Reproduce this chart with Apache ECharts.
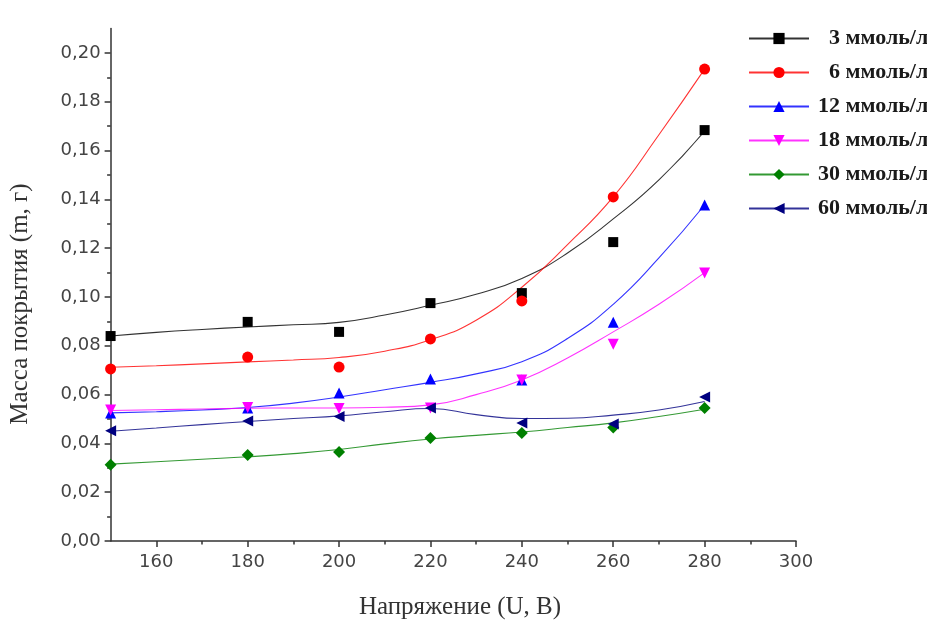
<!DOCTYPE html>
<html>
<head>
<meta charset="utf-8">
<script src="https://cdn.jsdelivr.net/npm/echarts@6/dist/echarts.min.js"></script>
<style>html,body{margin:0;padding:0;background:#fff;}#c{width:927px;height:623px;}</style>
</head>
<body>
<div id="c"></div>
<script>
// ---- data ----
const seriesNames = ['3 ммоль/л', '6 ммоль/л', '12 ммоль/л', '18 ммоль/л', '30 ммоль/л', '60 ммоль/л'];
const voltage = [150, 180, 200, 220, 240, 260, 280];
const mass3  = [0.0840, 0.0898, 0.0857, 0.0975, 0.1016, 0.1225, 0.1684];
const mass6  = [0.0705, 0.0754, 0.0713, 0.0828, 0.0984, 0.1410, 0.1934];
const mass12 = [0.0525, 0.0545, 0.0607, 0.0664, 0.0660, 0.0897, 0.1377];
const mass18 = [0.0537, 0.0547, 0.0543, 0.0545, 0.0660, 0.0806, 0.1098];
const mass30 = [0.0312, 0.0352, 0.0365, 0.0422, 0.0443, 0.0465, 0.0545];
const mass60 = [0.0452, 0.0492, 0.0510, 0.0545, 0.0484, 0.0480, 0.0590];

// fitted curves
const fitVoltage = [150, 160, 170, 180, 190, 200, 210, 220, 230, 240, 250, 260, 270, 280];
const fit3  = [0.0840, 0.0855, 0.0867, 0.0877, 0.0886, 0.0896, 0.0926, 0.0966, 0.1011, 0.1076, 0.1180, 0.1320, 0.1480, 0.1680];
const fit6  = [0.0712, 0.0718, 0.0726, 0.0734, 0.0742, 0.0752, 0.0778, 0.0825, 0.0905, 0.1040, 0.1215, 0.1410, 0.1665, 0.1934];
const fit12 = [0.0525, 0.0530, 0.0537, 0.0547, 0.0565, 0.0590, 0.0620, 0.0650, 0.0685, 0.0735, 0.0830, 0.0970, 0.1160, 0.1377];
const fit18 = [0.0535, 0.0538, 0.0541, 0.0544, 0.0545, 0.0545, 0.0548, 0.0558, 0.0600, 0.0660, 0.0750, 0.0857, 0.0970, 0.1100];
const fit30 = [0.0315, 0.0325, 0.0335, 0.0345, 0.0358, 0.0375, 0.0398, 0.0418, 0.0433, 0.0447, 0.0465, 0.0484, 0.0510, 0.0540];
const fit60 = [0.0450, 0.0463, 0.0477, 0.0490, 0.0502, 0.0513, 0.0530, 0.0543, 0.0518, 0.0502, 0.0503, 0.0516, 0.0537, 0.0572];

// tick labels
const xMajorTicks = [160, 180, 200, 220, 240, 260, 280, 300];
const xMinorTicks = [170, 190, 210, 230, 250, 270, 290];
const yMajorTicks = [0, 0.02, 0.04, 0.06, 0.08, 0.10, 0.12, 0.14, 0.16, 0.18, 0.20];
const yMinorTicks = [0.01, 0.03, 0.05, 0.07, 0.09, 0.11, 0.13, 0.15, 0.17, 0.19];
const xTitle = 'Напряжение (U, B)';
const yTitle = 'Масса покрытия (m, г)';

// ---- styling ----
const pointSets = [mass3, mass6, mass12, mass18, mass30, mass60];
const fitSets = [fit3, fit6, fit12, fit18, fit30, fit60];
const colors = ['#000000', '#ff0000', '#0000ff', '#ff00ff', '#008000', '#000080'];
const symbols = [
  'rect',
  'circle',
  'triangle',
  'path://M0,0 L10,0 L5,10 Z',
  'diamond',
  'path://M0,5 L10,0 L10,10 Z'
];
const sizes = [10, 11, 11, 11, 12, 11];

const pair = (xs, ys) => xs.map((x, i) => [x, ys[i]]);

const series = [];
seriesNames.forEach((name, i) => {
  series.push({
    name: name,
    type: 'line',
    data: pair(fitVoltage, fitSets[i]),
    smooth: 0.5,
    showSymbol: false,
    symbol: symbols[i],
    symbolSize: sizes[i],
    itemStyle: { color: colors[i] },
    lineStyle: { color: colors[i], width: 1.1, opacity: 0.8 },
    emphasis: { disabled: true },
    silent: true,
    z: 2
  });
});
seriesNames.forEach((name, i) => {
  series.push({
    name: name,
    type: 'scatter',
    data: pair(voltage, pointSets[i]),
    symbol: symbols[i],
    symbolSize: sizes[i],
    itemStyle: { color: colors[i], opacity: 1 },
    emphasis: { disabled: true },
    silent: true,
    z: 3 + i
  });
});

const axisColor = '#333';
const labelFont = { fontFamily: 'DejaVu Sans', fontSize: 18, color: '#444' };

const option = {
  backgroundColor: '#ffffff',
  animation: false,
  grid: { left: 110.6, right: 131, top: 28.6, bottom: 82, containLabel: false },
  legend: {
    data: seriesNames,
    orient: 'vertical',
    left: 748,
    top: 27.5,
    padding: 0,
    itemWidth: 60,
    itemHeight: 14,
    itemGap: 12,
    selectedMode: false,
    formatter: n => (n.length < 10 ? '\u2002' + n : n),
    textStyle: {
      fontFamily: 'Liberation Serif',
      fontWeight: 'bold',
      fontSize: 22,
      color: '#1a1a1a',
      padding: [0, 0, 0, 4]
    }
  },
  xAxis: [
    {
      type: 'value', min: 150, max: 300,
      axisLine: { show: true, onZero: false, lineStyle: { color: axisColor, width: 1.5 } },
      axisTick: { show: true, customValues: xMajorTicks, length: 6, lineStyle: { color: axisColor, width: 1.5 } },
      axisLabel: Object.assign({ customValues: xMajorTicks, margin: 12 }, labelFont),
      splitLine: { show: false }
    },
    {
      type: 'value', min: 150, max: 300, position: 'bottom', offset: 0,
      axisLine: { show: false },
      axisTick: { show: true, customValues: xMinorTicks, length: 3.5, lineStyle: { color: axisColor, width: 1.5 } },
      axisLabel: { show: false },
      splitLine: { show: false }
    }
  ],
  yAxis: [
    {
      type: 'value', min: 0, max: 0.21,
      axisLine: { show: true, onZero: false, lineStyle: { color: axisColor, width: 1.5 } },
      axisTick: { show: true, customValues: yMajorTicks, length: 6, lineStyle: { color: axisColor, width: 1.5 } },
      axisLabel: Object.assign({
        customValues: yMajorTicks, margin: 10,
        formatter: v => v.toFixed(2).replace('.', ',')
      }, labelFont),
      splitLine: { show: false }
    },
    {
      type: 'value', min: 0, max: 0.21, position: 'left', offset: 0,
      axisLine: { show: false },
      axisTick: { show: true, customValues: yMinorTicks, length: 3.5, lineStyle: { color: axisColor, width: 1.5 } },
      axisLabel: { show: false },
      splitLine: { show: false }
    }
  ],
  graphic: [
    {
      type: 'text', x: 460, y: 607,
      style: { text: xTitle, font: '25px "Liberation Serif"', fill: '#333', align: 'center', verticalAlign: 'middle' }
    },
    {
      type: 'text', x: 20, y: 304, rotation: Math.PI / 2,
      style: { text: yTitle, font: '25px "Liberation Serif"', fill: '#333', align: 'center', verticalAlign: 'middle' }
    }
  ],
  series: series
};

const chart = echarts.init(document.getElementById('c'), null, { renderer: 'canvas' });
chart.setOption(option);
</script>
</body>
</html>
